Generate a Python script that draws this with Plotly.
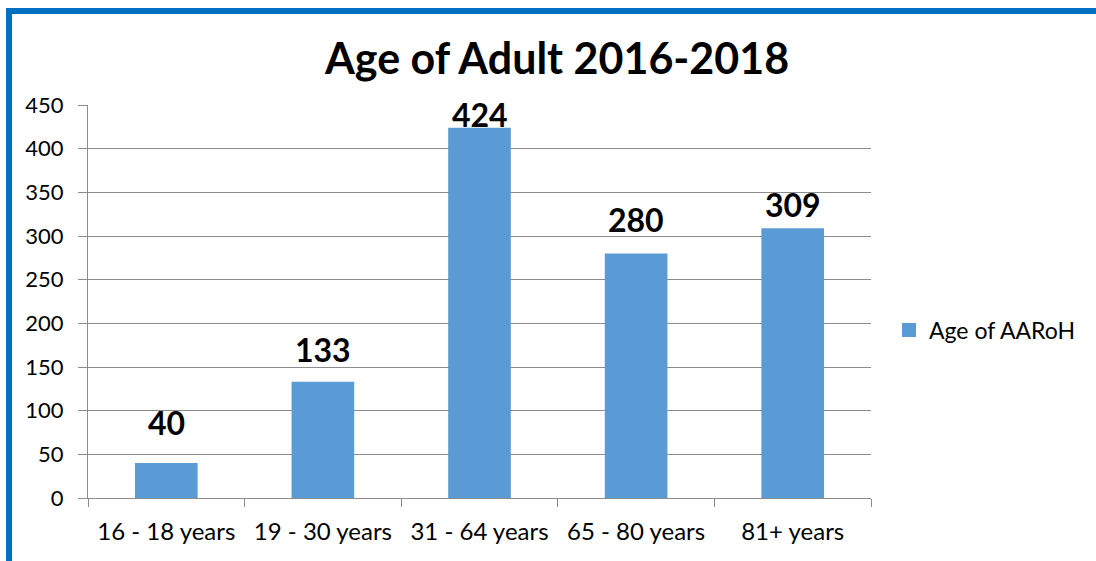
import plotly.graph_objects as go

categories = ["16 - 18 years", "19 - 30 years", "31 - 64 years", "65 - 80 years", "81+ years"]
values = [40, 133, 424, 280, 309]
series_name = "Age of AARoH"
chart_title = "Age of Adult 2016-2018"
y_ticks = [0, 50, 100, 150, 200, 250, 300, 350, 400, 450]

# label lift above each bar top, in pixels
label_lift = [41, 32, 13, 34, 24]

W, H = 1096, 561
L, R, T, B = 88, 225, 105, 63
FONT = "Lato"
BAR = "#5B9BD5"
GRID = "#8C8C8C"
FRAME = "#0070C0"

fig = go.Figure()
fig.add_trace(go.Bar(
    x=categories, y=values, name=series_name,
    marker=dict(color=BAR, line=dict(width=0)),
    width=0.4, showlegend=False,
))
# legend entry drawn as a square swatch
fig.add_trace(go.Scatter(
    x=[None], y=[None], mode="markers", name=series_name,
    marker=dict(symbol="square", size=14, color=BAR), showlegend=True,
))

for c, v, d in zip(categories, values, label_lift):
    fig.add_annotation(x=c, y=v, text=str(v), showarrow=False,
                       yanchor="middle", yshift=d,
                       font=dict(family=FONT, size=32, color="black", weight="bold"))

pw = W - L - R
ph = H - T - B

def px_x(p):
    return (p - L) / pw

def px_y(p):
    return (H - B - p) / ph

# outer frame edges (top and left)
fig.add_shape(type="line", xref="paper", yref="paper",
              x0=px_x(9), x1=px_x(W + 20), y0=px_y(11), y1=px_y(11),
              line=dict(color=FRAME, width=6))
fig.add_shape(type="line", xref="paper", yref="paper",
              x0=px_x(9), x1=px_x(9), y0=px_y(8), y1=px_y(H + 20),
              line=dict(color=FRAME, width=6))

fig.add_annotation(xref="paper", yref="paper", x=px_x(556), y=px_y(58),
                   text=chart_title, showarrow=False, xanchor="center", yanchor="middle",
                   font=dict(family=FONT, size=43, color="black", weight="bold"))

fig.update_layout(
    width=W, height=H,
    margin=dict(l=L, r=R, t=T, b=B, pad=0, autoexpand=False),
    paper_bgcolor="white", plot_bgcolor="white",
    font=dict(family=FONT, size=24, color="black"),
    bargap=0.6,
    legend=dict(x=px_x(889), y=px_y(330), xanchor="left", yanchor="middle",
                font=dict(family=FONT, size=23, color="black"),
                itemwidth=30, bgcolor="rgba(0,0,0,0)"),
)
fig.update_xaxes(
    range=[-0.5, 4.5], showgrid=False, showline=True, linecolor=GRID, linewidth=1,
    ticks="outside", ticklen=8, tickcolor=GRID, tickson="boundaries",
    ticklabelstandoff=12,
    tickfont=dict(family=FONT, size=24, color="black"), fixedrange=True,
)
fig.update_yaxes(
    range=[0, 450], tickvals=y_ticks, showgrid=True, gridcolor=GRID, gridwidth=1,
    showline=True, linecolor=GRID, linewidth=1, zeroline=False,
    ticks="outside", ticklen=9, tickcolor=GRID, ticklabelstandoff=10,
    tickfont=dict(family=FONT, size=22, color="black"), fixedrange=True,
)

fig.write_html("out.html")
